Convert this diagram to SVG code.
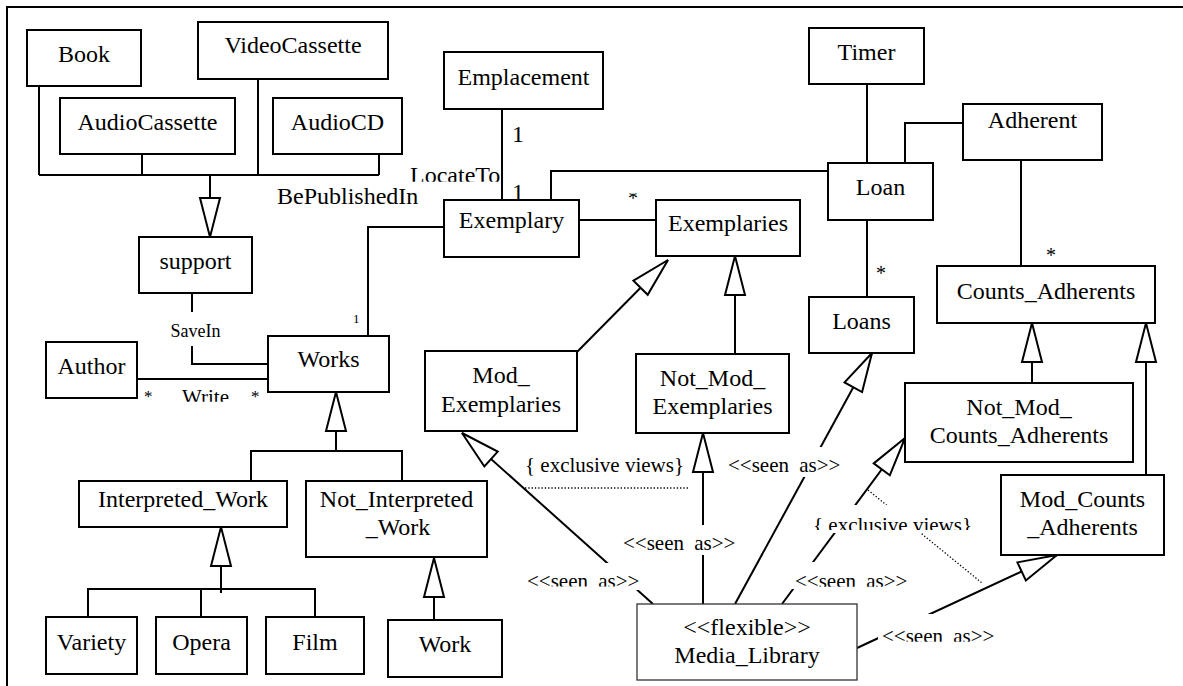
<svg xmlns="http://www.w3.org/2000/svg" width="1183" height="686" viewBox="0 0 1183 686">
<style>
  .box{fill:#fff;stroke:#000;stroke-width:2}
  .thin{fill:#fff;stroke:#333;stroke-width:1.3}
  .t{font-family:"Liberation Serif","Times New Roman",serif;font-size:24px;fill:#000;text-anchor:middle}
  .ln{fill:none;stroke:#000;stroke-width:2}
  .gen{fill:none;stroke:#000;stroke-width:2;marker-end:url(#hollow)}
  .dot{fill:none;stroke:#000;stroke-width:1.3;stroke-dasharray:1.3 2}
  .lbl{font-family:"Liberation Serif","Times New Roman",serif;font-size:21px;fill:#000}
  .seen{word-spacing:5px}
  .m{font-family:"Liberation Serif","Times New Roman",serif;fill:#000}
  .mask{fill:#fff}
</style>
<defs>
  <!-- hollow generalisation / "seen as" arrowhead -->
  <marker id="hollow" markerUnits="userSpaceOnUse" markerWidth="42" markerHeight="22" viewBox="0 0 42 22" refX="40" refY="11" orient="auto" overflow="visible">
    <path d="M1,1 L40,11 L1,21 Z" fill="#fff" stroke="#000" stroke-width="2"/>
  </marker>
  <clipPath id="cLocate"><rect x="400" y="160" width="110" height="21.7"/></clipPath>
  <clipPath id="cStar"><rect x="620" y="193.5" width="25" height="7"/></clipPath>
  <clipPath id="cWrite"><rect x="175" y="380" width="60" height="21.7"/></clipPath>
  <clipPath id="cL1"><rect x="519" y="563" width="127" height="23.5"/></clipPath>
  <clipPath id="cL4"><rect x="790" y="562" width="122" height="24.7"/></clipPath>
  <clipPath id="cEx2"><rect x="810" y="505" width="168" height="25"/></clipPath>
  <clipPath id="cL5"><rect x="878" y="614" width="122" height="27.7"/></clipPath>
</defs>

<!-- page frame -->
<path class="ln" d="M6,7 H1183 M7,7 V686"/>

<g id="connectors">
  <!-- media types generalised into support -->
  <path class="ln" d="M39,86 V175 M142,154 V175 M258,79 V175 M379,154 V175 M39,175 H379"/>
  <path class="gen" d="M210,175 V237"/>
  <!-- associations -->
  <path class="ln" d="M502,109 V200"/>
  <path class="ln" d="M551,200 V171 H828"/>
  <path class="ln" d="M579,220 H656"/>
  <path class="ln" d="M867,84 V163"/>
  <path class="ln" d="M963,123 H905 V163"/>
  <path class="ln" d="M1021,160 V266"/>
  <path class="ln" d="M867,220 V297"/>
  <path class="ln" d="M368,336 V227 H444"/>
  <path class="ln" d="M192,293 V312 M192,346 V364 H268"/>
  <path class="ln" d="M137,379 H268"/>
  <!-- works hierarchy -->
  <path class="gen" d="M336,452 V392"/>
  <path class="ln" d="M251,481 V451 H402 V481"/>
  <path class="gen" d="M221,593 V527"/>
  <path class="ln" d="M88,617 V589 H315 V617 M201,589 V617"/>
  <path class="gen" d="M434,620 V558"/>
  <!-- exemplaries / counts views -->
  <path class="gen" d="M577,352 L668,260"/>
  <path class="gen" d="M735,354 V256"/>
  <path class="gen" d="M1032,383 V323"/>
  <path class="gen" d="M1146,478 V323"/>
  <!-- media library "seen as" links -->
  <path class="gen" d="M653,604 L462,433"/>
  <path class="gen" d="M703,604 V433"/>
  <path class="gen" d="M735,604 L872,353"/>
  <path class="gen" d="M782,604 L905,438"/>
  <path class="gen" d="M857,648 L1057,555"/>
  <!-- exclusive-view constraints -->
  <path class="dot" d="M525,488 H690"/>
  <path class="dot" d="M868,490 L982,583"/>

  <!-- label backgrounds -->
  <rect class="mask" x="519" y="563" width="127" height="27"/>
  <rect class="mask" x="620" y="525" width="120" height="30"/>
  <rect class="mask" x="726" y="447" width="120" height="30"/>
  <rect class="mask" x="790" y="562" width="122" height="27"/>
  <rect class="mask" x="810" y="505" width="168" height="28"/>
  <rect class="mask" x="878" y="614" width="122" height="28"/>

  <!-- labels -->
  <text class="lbl seen" x="527" y="587.5" clip-path="url(#cL1)">&lt;&lt;seen as&gt;&gt;</text>
  <text class="lbl seen" x="623" y="550">&lt;&lt;seen as&gt;&gt;</text>
  <text class="lbl seen" x="728" y="472">&lt;&lt;seen as&gt;&gt;</text>
  <text class="lbl seen" x="795" y="587.5" clip-path="url(#cL4)">&lt;&lt;seen as&gt;&gt;</text>
  <text class="lbl seen" x="882" y="643" clip-path="url(#cL5)">&lt;&lt;seen as&gt;&gt;</text>
  <text class="lbl" x="525" y="472.3">{ exclusive views}</text>
  <text class="lbl" x="813" y="531.5" clip-path="url(#cEx2)">{ exclusive views}</text>

  <text class="m" x="277" y="204" font-size="24">BePublishedIn</text>
  <text class="m" x="410" y="183" font-size="24" clip-path="url(#cLocate)">LocateTo</text>
  <text class="m" x="512" y="142" font-size="24">1</text>
  <text class="m" x="512" y="200" font-size="24">1</text>
  <text class="m" x="628" y="205.4" font-size="20" clip-path="url(#cStar)">*</text>
  <text class="m" x="195.5" y="337" font-size="18" text-anchor="middle">SaveIn</text>
  <text class="m" x="353" y="323" font-size="13">1</text>
  <text class="m" x="144" y="402" font-size="17">*</text>
  <text class="m" x="251" y="402" font-size="17">*</text>
  <text class="m" x="182" y="404" font-size="21" clip-path="url(#cWrite)">Write</text>
  <text class="m" x="876" y="280" font-size="20">*</text>
  <text class="m" x="1046" y="262" font-size="20">*</text>
</g>

<g id="book"><rect class="box" x="27" y="30" width="114" height="56"/><text class="t" x="84" y="62">Book</text></g>
<g id="videocassette"><rect class="box" x="198" y="22" width="190" height="57"/><text class="t" x="293" y="53">VideoCassette</text></g>
<g id="audiocassette"><rect class="box" x="60" y="98" width="175" height="56"/><text class="t" x="147.5" y="130">AudioCassette</text></g>
<g id="audiocd"><rect class="box" x="273" y="98" width="129" height="56"/><text class="t" x="337.5" y="130">AudioCD</text></g>
<g id="emplacement"><rect class="box" x="444" y="52" width="159" height="57"/><text class="t" x="523.5" y="85">Emplacement</text></g>
<g id="exemplary"><rect class="box" x="444" y="200" width="135" height="57"/><text class="t" x="511.5" y="228">Exemplary</text></g>
<g id="exemplaries"><rect class="box" x="656" y="200" width="144" height="56"/><text class="t" x="728" y="231">Exemplaries</text></g>
<g id="timer"><rect class="box" x="809" y="28" width="115" height="56"/><text class="t" x="866.5" y="60">Timer</text></g>
<g id="adherent"><rect class="box" x="963" y="104" width="139" height="56"/><text class="t" x="1032.5" y="128">Adherent</text></g>
<g id="loan"><rect class="box" x="828" y="163" width="105" height="57"/><text class="t" x="880.5" y="195">Loan</text></g>
<g id="loans"><rect class="box" x="809" y="297" width="105" height="56"/><text class="t" x="861.5" y="329">Loans</text></g>
<g id="counts_adherents"><rect class="box" x="937" y="266" width="218" height="57"/><text class="t" x="1046" y="299">Counts_Adherents</text></g>
<g id="support"><rect class="box" x="139" y="237" width="113" height="56"/><text class="t" x="195.5" y="269">support</text></g>
<g id="author"><rect class="box" x="46" y="342" width="91" height="56"/><text class="t" x="91.5" y="374">Author</text></g>
<g id="works"><rect class="box" x="268" y="336" width="121" height="56"/><text class="t" x="328.5" y="367">Works</text></g>
<g id="mod_exemplaries"><rect class="box" x="425" y="351" width="152" height="80"/><text class="t" x="501" y="383">Mod_</text><text class="t" x="501" y="412">Exemplaries</text></g>
<g id="not_mod_exemplaries"><rect class="box" x="636" y="354" width="153" height="79"/><text class="t" x="712.5" y="386">Not_Mod_</text><text class="t" x="712.5" y="414">Exemplaries</text></g>
<g id="not_mod_counts_adherents"><rect class="box" x="905" y="383" width="228" height="79"/><text class="t" x="1019" y="415">Not_Mod_</text><text class="t" x="1019" y="443">Counts_Adherents</text></g>
<g id="mod_counts_adherents"><rect class="box" x="1001" y="475" width="163" height="80"/><text class="t" x="1082.5" y="507">Mod_Counts</text><text class="t" x="1082.5" y="535">_Adherents</text></g>
<g id="interpreted_work"><rect class="box" x="79" y="481" width="208" height="46"/><text class="t" x="183" y="507">Interpreted_Work</text></g>
<g id="not_interpreted_work"><rect class="box" x="306" y="481" width="181" height="76"/><text class="t" x="396.5" y="507">Not_Interpreted</text><text class="t" x="398" y="535">_Work</text></g>
<g id="variety"><rect class="box" x="46" y="617" width="91" height="57"/><text class="t" x="91.5" y="650">Variety</text></g>
<g id="opera"><rect class="box" x="156" y="617" width="91" height="57"/><text class="t" x="201.5" y="650">Opera</text></g>
<g id="film"><rect class="box" x="266" y="617" width="98" height="57"/><text class="t" x="315" y="650">Film</text></g>
<g id="work"><rect class="box" x="388" y="620" width="114" height="57"/><text class="t" x="445" y="652">Work</text></g>
<g id="media_library"><rect class="thin" x="637" y="604" width="220" height="76"/><text class="t" x="747" y="635">&lt;&lt;flexible&gt;&gt;</text><text class="t" x="747" y="663">Media_Library</text></g>
</svg>
